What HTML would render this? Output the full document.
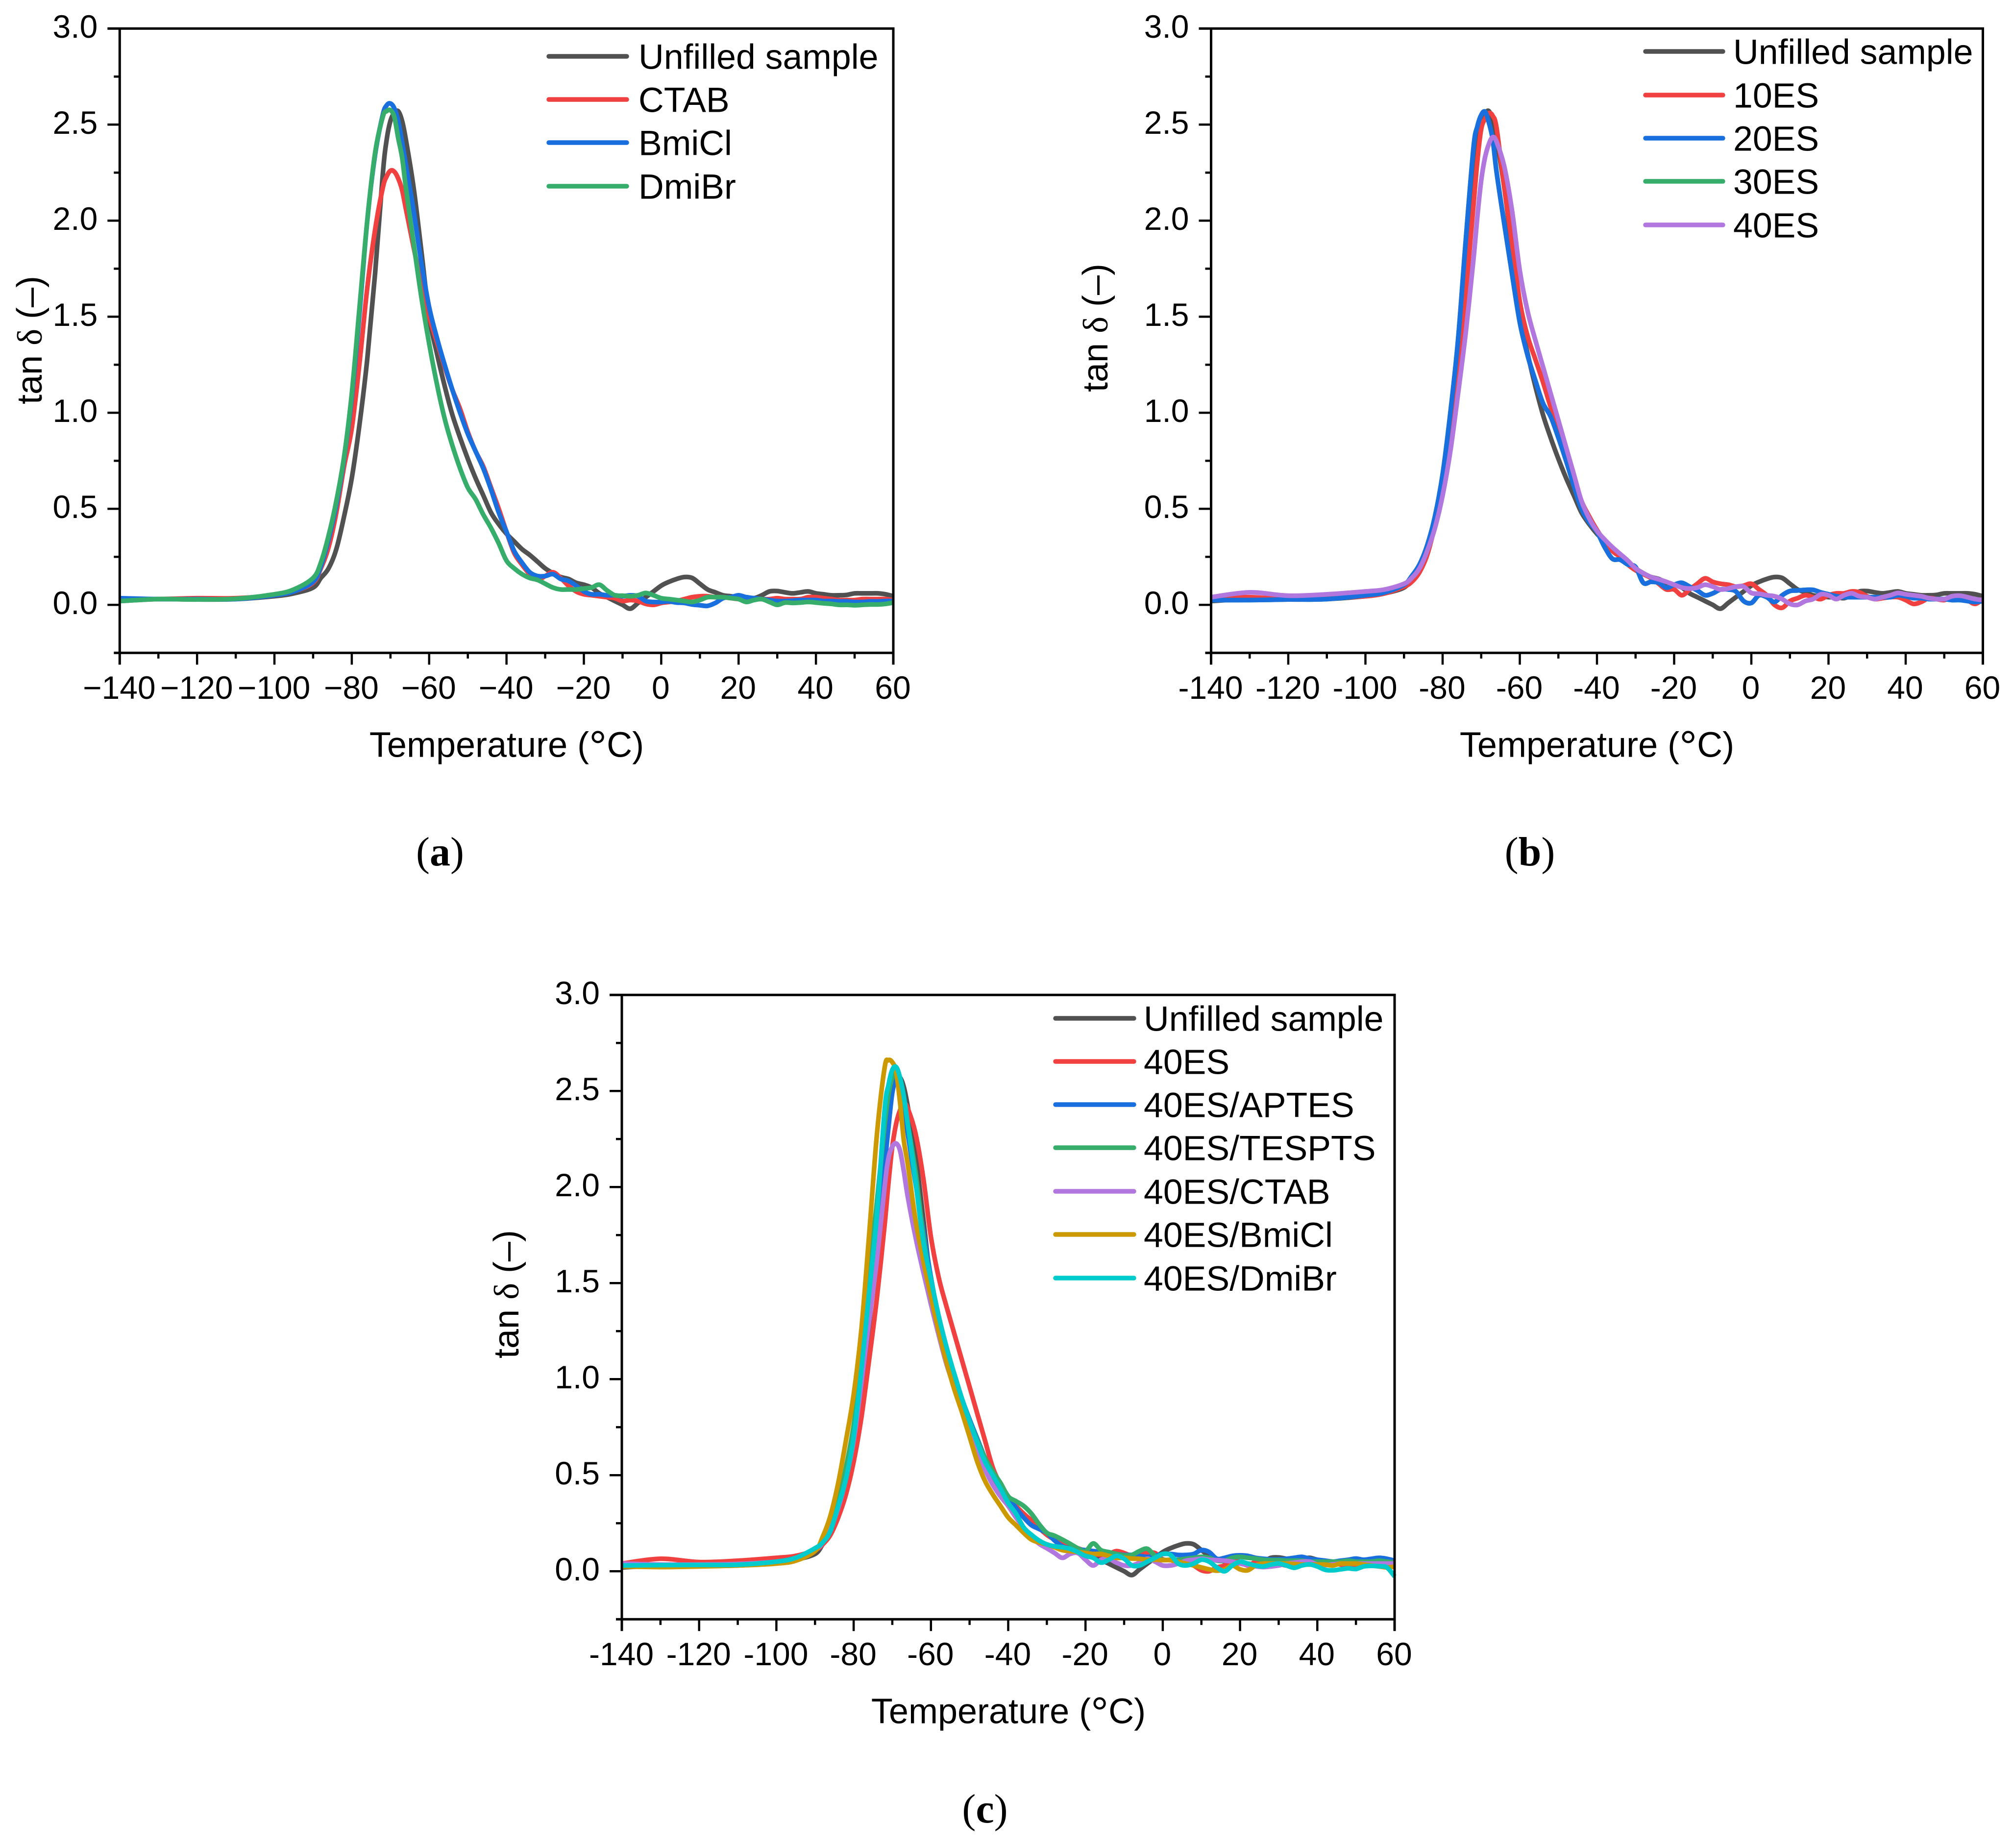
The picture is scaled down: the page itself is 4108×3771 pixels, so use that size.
<!DOCTYPE html>
<html lang="en">
<head>
<meta charset="utf-8">
<title>tan delta versus temperature</title>
<style>
html,body{margin:0;padding:0;background:#fff;}
svg{display:block;}
text{font-family:"Liberation Sans",Arial,sans-serif;fill:#000;}
</style>
</head>
<body>
<svg id="figure" xmlns="http://www.w3.org/2000/svg" width="4108" height="3771" viewBox="0 0 4108 3771"></svg>
<script>
const temperatures = [
-140,-130,-120,-110,-100,-95,-90,
-88,-86,-84,-82,-80,-78,-76,-74,-72,
-71,-70,-69,-68,-67,-66,
-64,-62,-60,-58,-56,-54,-52,-50,-48,-46,-44,-42,-40,-38,-36,-34,-32,-30,-28,-26,-24,-22,-20,
-18,-16,-14,-12,-10,-8,-6,-4,-2,0,
2,4,6,8,10,12,14,16,18,20,
22,24,26,28,30,32,34,36,38,40,
42,44,46,48,50,52,54,56,58,60];

const unfilledSample = [
.02,.03,.028,.03,.045,.06,.09,
.14,.19,.29,.46,.66,.94,1.28,1.72,2.24,
2.42,2.52,2.56,2.57,2.52,2.42,
2.17,1.84,1.50,1.31,1.14,.99,.87,.76,.66,.57,.48,.42,.37,.33,.29,.26,.225,.19,.165,.145,.135,.115,.105,
.09,.06,.04,.02,0,-.02,.01,.04,.07,.10,
.12,.135,.145,.14,.11,.08,.065,.05,.045,.04,
.04,.035,.05,.07,.072,.065,.06,.065,.07,.06,
.055,.05,.05,.052,.06,.06,.06,.06,.055,.045];

const ctabA = [
.03,.03,.035,.035,.05,.07,.115,
.19,.30,.48,.72,.92,1.26,1.65,1.95,2.17,
2.23,2.26,2.255,2.22,2.16,2.06,
1.86,1.67,1.50,1.37,1.24,1.12,1.02,.90,.80,.72,.61,.50,.38,.27,.21,.16,.13,.15,.17,.14,.10,.07,.055,
.05,.045,.04,.035,.02,.025,.02,.005,0,.01,
.015,.02,.03,.04,.045,.045,.04,.04,.035,.03,
.03,.03,.03,.03,.035,.03,.03,.03,.04,.04,
.035,.03,.025,.025,.025,.03,.03,.03,.03,.025];

const bmiclA = [
.035,.03,.03,.03,.05,.07,.12,
.20,.34,.52,.76,1.08,1.52,2.0,2.34,2.55,
2.60,2.61,2.585,2.52,2.41,2.29,
2.05,1.78,1.55,1.39,1.25,1.12,1.0,.89,.80,.71,.60,.48,.38,.28,.22,.17,.15,.15,.16,.135,.125,.10,.07,
.055,.055,.05,.05,.045,.05,.045,.02,.015,.015,
.018,.012,.01,.002,-.002,-.005,.01,.035,.04,.05,
.04,.035,.03,.025,.02,.02,.022,.025,.025,.025,
.02,.02,.018,.018,.015,.015,.018,.018,.02,.02];

const dmibrA = [
.02,.03,.028,.032,.055,.08,.14,
.22,.36,.54,.77,1.1,1.55,2.0,2.35,2.54,
2.57,2.575,2.54,2.43,2.33,2.17,
1.88,1.60,1.36,1.15,.97,.83,.71,.61,.55,.47,.40,.32,.23,.19,.16,.14,.13,.11,.09,.08,.08,.08,.085,
.09,.105,.075,.05,.048,.045,.05,.062,.05,.035,
.03,.025,.02,.015,.025,.04,.04,.04,.035,.03,
.015,.025,.03,.015,0,.012,.01,.012,.015,.012,
.008,.005,0,0,-.002,0,.002,.002,.005,.012];

const es10 = [
.04,.04,.03,.035,.045,.06,.095,
.12,.17,.26,.41,.58,.82,1.15,1.62,2.08,
2.31,2.477,2.53,2.56,2.545,2.48,
2.17,1.88,1.58,1.40,1.28,1.16,1.03,.92,.79,.67,.54,.46,.39,.33,.28,.25,.21,.18,.16,.14,.11,.08,.08,
.05,.08,.11,.138,.12,.11,.105,.095,.10,.11,
.08,.05,0,-.015,.02,.035,.05,.04,.03,.05,
.06,.06,.07,.065,.045,.03,.035,.04,.04,.025,
.005,.015,.035,.03,.025,.04,.045,.025,.005,.03];

const es20 = [
.025,.025,.028,.03,.05,.065,.105,
.15,.21,.31,.46,.68,1.0,1.38,1.90,2.38,
2.49,2.55,2.567,2.51,2.42,2.25,
1.98,1.72,1.47,1.30,1.17,1.05,.98,.87,.75,.62,.50,.43,.38,.30,.24,.235,.21,.197,.115,.12,.115,.09,.105,
.115,.095,.075,.05,.06,.08,.08,.07,.02,.01,
.05,.04,.015,.05,.072,.075,.078,.078,.065,.055,
.045,.04,.04,.04,.04,.04,.04,.04,.05,.045,
.035,.035,.03,.03,.03,.025,.025,.02,.015,.02];

const es30 = [
.025,.025,.028,.03,.05,.065,.105,
.15,.21,.31,.46,.68,1.0,1.38,1.90,2.38,
2.49,2.55,2.567,2.51,2.42,2.25,
1.98,1.72,1.47,1.30,1.17,1.05,.98,.87,.75,.62,.50,.43,.38,.30,.24,.235,.21,.197,.115,.12,.115,.09,.105,
.115,.095,.075,.05,.06,.08,.08,.07,.02,.01,
.05,.04,.015,.05,.072,.075,.078,.078,.065,.055,
.045,.04,.04,.04,.04,.04,.04,.04,.05,.045,
.035,.035,.03,.03,.03,.025,.025,.02,.015,.02];

const es40 = [
.04,.065,.048,.055,.07,.08,.11,
.14,.19,.28,.40,.57,.80,1.10,1.42,1.80,
2.02,2.21,2.33,2.40,2.435,2.41,
2.28,2.05,1.74,1.53,1.38,1.24,1.10,.96,.82,.68,.54,.45,.385,.34,.30,.265,.23,.19,.165,.145,.133,.12,.105,
.09,.085,.09,.105,.095,.08,.085,.095,.095,.062,
.058,.05,.045,.03,.005,0,.02,.03,.055,.05,
.03,.05,.06,.045,.04,.03,.04,.05,.062,.055,
.05,.045,.035,.03,.03,.045,.048,.04,.03,.025];

const aptesC = [
.03,.03,.03,.035,.05,.07,.11,
.16,.24,.36,.52,.75,1.05,1.42,1.82,2.12,
2.31,2.49,2.56,2.54,2.42,2.28,
2.02,1.78,1.53,1.32,1.15,1.03,.90,.79,.69,.59,.50,.45,.39,.33,.28,.24,.22,.20,.16,.13,.12,.115,.11,
.105,.10,.095,.09,.085,.085,.08,.075,.08,.09,
.09,.085,.085,.09,.11,.10,.065,.07,.08,.083,
.08,.07,.065,.062,.062,.065,.07,.075,.065,.06,
.055,.05,.055,.06,.066,.06,.065,.07,.065,.055];

const tesptsC = [
.025,.03,.03,.033,.05,.07,.115,
.16,.25,.36,.54,.76,1.08,1.55,1.92,2.32,
2.48,2.57,2.60,2.55,2.46,2.33,
2.08,1.75,1.50,1.30,1.13,1.01,.88,.78,.68,.59,.52,.46,.39,.365,.34,.30,.245,.20,.185,.165,.143,.12,.105,
.145,.11,.10,.09,.083,.085,.105,.117,.08,.06,
.06,.06,.065,.07,.075,.07,.055,.055,.07,.075,
.07,.066,.06,.058,.058,.055,.055,.055,.05,.05,
.05,.05,.05,.055,.05,.05,.05,.055,.05,.045];

const ctabC = [
.04,.035,.035,.038,.05,.066,.11,
.15,.22,.33,.48,.68,.98,1.30,1.62,2.0,
2.15,2.21,2.227,2.19,2.08,1.95,
1.74,1.56,1.39,1.23,1.08,.96,.84,.73,.63,.53,.45,.39,.34,.28,.228,.18,.143,.12,.095,.07,.09,.095,.06,
.03,.06,.065,.045,.03,.03,.045,.065,.05,.03,
.03,.04,.055,.06,.065,.06,.058,.055,.05,.04,
.032,.026,.022,.025,.03,.04,.045,.05,.05,.035,
.032,.036,.04,.04,.04,.04,.04,.04,.04,.04];

const bmiclC = [
.025,.022,.025,.03,.04,.055,.105,
.18,.29,.46,.68,.92,1.26,1.75,2.27,2.62,
2.66,2.65,2.60,2.44,2.24,2.12,
1.83,1.62,1.43,1.25,1.09,.95,.83,.70,.57,.47,.40,.34,.28,.24,.20,.165,.15,.14,.125,.11,.105,.10,.095,
.09,.09,.08,.07,.07,.066,.065,.06,.06,.058,
.058,.05,.04,.03,.02,.01,.003,.01,.03,.01,
.005,.03,.04,.04,.04,.04,.038,.035,.035,.035,
.035,.03,.04,.04,.04,.035,.03,.025,.02,.024];

const dmibrC = [
.03,.032,.033,.034,.05,.07,.12,
.15,.21,.34,.48,.70,1.05,1.45,1.85,2.40,
2.53,2.61,2.625,2.57,2.47,2.33,
2.03,1.72,1.52,1.33,1.17,1.03,.90,.78,.67,.57,.50,.43,.355,.30,.228,.19,.16,.14,.13,.125,.117,.10,.08,
.07,.045,.06,.08,.065,.03,.03,.05,.07,.09,
.085,.04,.03,.04,.06,.05,.02,0,.03,.05,
.04,.03,.025,.035,.04,.03,.018,.03,.036,.025,
.008,.005,.01,.015,.012,.025,.028,.026,.02,-.027];

const xTicksMajor = [-140,-120,-100,-80,-60,-40,-20,0,20,40,60];
const xTicksMinor = [-130,-110,-90,-70,-50,-30,-10,10,30,50];
const yTicksMajor = [0,0.5,1,1.5,2,2.5,3];
const yTicksMinor = [-0.25,0.25,0.75,1.25,1.75,2.25,2.75];
const xLabelsMinus = ['\u2212140','\u2212120','\u2212100','\u221280','\u221260','\u221240','\u221220','0','20','40','60'];
const xLabelsHyphen = ['-140','-120','-100','-80','-60','-40','-20','0','20','40','60'];
const yLabels = ['0.0','0.5','1.0','1.5','2.0','2.5','3.0'];

const panels = [
  {id:'a', left:244.3, right:1823, top:58.3, bottom:1332.3, xLabels:xLabelsMinus,
   yTitleX:85, yTitleY:694, xTitleX:1034, capX:898, capY:1766,
   legendLineX:[1120,1279], legendTextX:1303, legendY:[115,203,291,380],
   series:[['Unfilled sample',unfilledSample,'#515151'],['CTAB',ctabA,'#F14040'],['BmiCl',bmiclA,'#1A6FDF'],['DmiBr',dmibrA,'#37AD6B']], order:[0,1,2,3]},
  {id:'b', left:2471.5, right:4046.5, top:58.3, bottom:1332.3, xLabels:xLabelsHyphen,
   yTitleX:2260, yTitleY:669, xTitleX:3259, capX:3122, capY:1766,
   legendLineX:[3358,3516], legendTextX:3537, legendY:[105,194,282,370,459],
   series:[['Unfilled sample',unfilledSample,'#515151'],['10ES',es10,'#F14040'],['20ES',es20,'#1A6FDF'],['30ES',es30,'#37AD6B'],['40ES',es40,'#B177DE']], order:[0,1,3,2,4]},
  {id:'c', left:1269, right:2846, top:2030.3, bottom:3304.3, xLabels:xLabelsHyphen,
   yTitleX:1058, yTitleY:2641, xTitleX:2058, capX:2010, capY:3719,
   legendLineX:[2154,2314], legendTextX:2334, legendY:[2078,2166,2254,2342,2431,2519,2608],
   series:[['Unfilled sample',unfilledSample,'#515151'],['40ES',es40,'#F14040'],['40ES/APTES',aptesC,'#1A6FDF'],['40ES/TESPTS',tesptsC,'#37AD6B'],['40ES/CTAB',ctabC,'#B177DE'],['40ES/BmiCl',bmiclC,'#CC9900'],['40ES/DmiBr',dmibrC,'#00CBCC']], order:[0,1,2,3,4,5,6]}
];

const SVG_NS = 'http://www.w3.org/2000/svg';
const figure = document.getElementById('figure');

function make(tag, parent, attrs, content) {
  const el = document.createElementNS(SVG_NS, tag);
  for (const k in attrs) el.setAttribute(k, attrs[k]);
  if (content !== undefined) el.textContent = content;
  parent.appendChild(el);
  return el;
}
function kebab(s) {
  return s.toLowerCase().replace(/[^a-z0-9]+/g, '-');
}
function smoothPath(pts) {
  let d = 'M' + pts[0][0].toFixed(1) + ' ' + pts[0][1].toFixed(1);
  for (let i = 0; i < pts.length - 1; i++) {
    const p0 = pts[Math.max(0, i - 1)], p1 = pts[i], p2 = pts[i + 1], p3 = pts[Math.min(pts.length - 1, i + 2)];
    const c1x = p1[0] + (p2[0] - p0[0]) / 6, c1y = p1[1] + (p2[1] - p0[1]) / 6;
    const c2x = p2[0] - (p3[0] - p1[0]) / 6, c2y = p2[1] - (p3[1] - p1[1]) / 6;
    d += 'C' + c1x.toFixed(1) + ' ' + c1y.toFixed(1) + ' ' + c2x.toFixed(1) + ' ' + c2y.toFixed(1) + ' ' + p2[0].toFixed(1) + ' ' + p2[1].toFixed(1);
  }
  return d;
}

panels.forEach(function (p) {
  const xScale = t => p.left + (t + 140) / 200 * (p.right - p.left);
  const yScale = v => p.bottom - (v + 0.25) / 3.25 * (p.bottom - p.top);

  const g = make('g', figure, {});
  
  

  const line = (x1, y1, x2, y2, w) => make('line', g, {x1:x1, y1:y1, x2:x2, y2:y2, stroke:'#000', 'stroke-width':w});

  p.order.forEach(function (idx) {
    const s = p.series[idx];
    const pts = temperatures.map((t, i) => [xScale(t), yScale(s[1][i])]);
    const path = make('path', g, {d:smoothPath(pts), fill:'none', stroke:s[2], 'stroke-width':9.5, 'stroke-linejoin':'round'});
    
    
  });

  const topAxis = line(p.left - 25, p.top, p.right + 2.5, p.top, 5);
  
  
  const rightAxis = line(p.right, p.top, p.right, p.bottom + 24, 5);
  
  
  const leftAxis = line(p.left, p.top, p.left, p.bottom + 24, 5);
  
  
  const bottomAxis = line(p.left - 12, p.bottom, p.right + 2.5, p.bottom, 5);
  
  

  xTicksMajor.forEach(function (t, i) {
    if (i > 0 && i < xTicksMajor.length - 1) {
      const tick = line(xScale(t), p.bottom, xScale(t), p.bottom + 24, 4.5);
      
      
    }
    const label = make('text', g, {x:xScale(t) - 1, y:p.bottom + 93.5, 'font-size':66, 'text-anchor':'middle'}, p.xLabels[i]);
    
    
  });
  xTicksMinor.forEach(function (t) {
    const tick = line(xScale(t), p.bottom, xScale(t), p.bottom + 11.5, 4.5);
    
    
  });
  yTicksMajor.forEach(function (v, i) {
    if (v < 3) {
      const tick = line(p.left - 25, yScale(v), p.left, yScale(v), 4.5);
      
      
    }
    const label = make('text', g, {x:p.left - 45, y:yScale(v) + 18.5, 'font-size':66, 'text-anchor':'end'}, yLabels[i]);
    
    
  });
  yTicksMinor.forEach(function (v) {
    if (v > -0.25) {
      const tick = line(p.left - 12, yScale(v), p.left, yScale(v), 4.5);
      
      
    }
  });

  const xTitle = make('text', g, {x:p.xTitleX, y:p.bottom + 212, 'font-size':72, 'text-anchor':'middle'});
  
  
  make('tspan', xTitle, {}, 'Temperature (');
  make('tspan', xTitle, {'font-size':90, dy:10}, '\u00B0');
  make('tspan', xTitle, {dy:-10}, 'C)');

  const yTitle = make('text', g, {x:p.yTitleX, y:p.yTitleY, 'font-size':72, 'text-anchor':'middle', transform:'rotate(-90 ' + p.yTitleX + ' ' + p.yTitleY + ')'});
  
  
  make('tspan', yTitle, {}, 'tan ');
  make('tspan', yTitle, {style:'font-family:"Liberation Serif",serif'}, '\u03B4');
  make('tspan', yTitle, {}, ' (\u2013)');

  p.series.forEach(function (s, i) {
    const y = p.legendY[i];
    const key = make('line', g, {x1:p.legendLineX[0], y1:y, x2:p.legendLineX[1], y2:y, stroke:s[2], 'stroke-width':9.5, 'stroke-linecap':'round'});
    
    
    const text = make('text', g, {x:p.legendTextX, y:y + 25.5, 'font-size':71.6}, s[0]);
    
    
  });

  const caption = make('text', g, {x:p.capX, y:p.capY, 'font-size':84, 'text-anchor':'middle', style:'font-family:"Liberation Serif",serif'});
  
  
  make('tspan', caption, {}, '(');
  make('tspan', caption, {'font-weight':'bold'}, p.id);
  make('tspan', caption, {}, ')');
});
</script>
</body>
</html>
